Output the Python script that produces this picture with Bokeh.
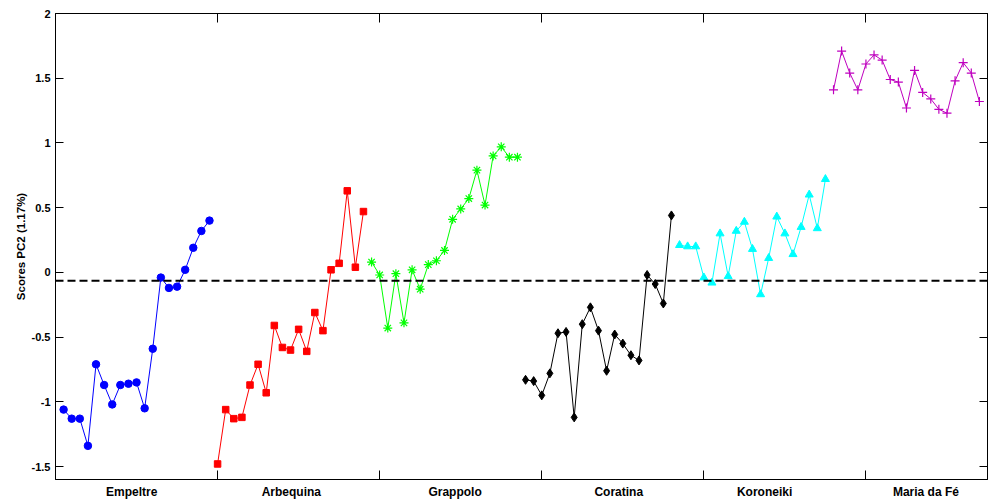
from bokeh.plotting import figure
from bokeh.models import LinearAxis, FixedTicker, Span, Range1d
from bokeh.embed import file_html
from bokeh.resources import INLINE

# ---- data ----
groups = ["Empeltre", "Arbequina", "Grappolo", "Coratina", "Koroneiki", "Maria da Fé"]

empeltre = [-1.06, -1.13, -1.13, -1.34, -0.71, -0.87, -1.02, -0.87, -0.86, -0.85,
            -1.05, -0.59, -0.04, -0.12, -0.11, 0.02, 0.19, 0.32, 0.40]
arbequina = [-1.48, -1.06, -1.13, -1.12, -0.87, -0.71, -0.93, -0.41, -0.58, -0.60,
             -0.44, -0.61, -0.31, -0.45, 0.02, 0.07, 0.63, 0.04, 0.47]
grappolo = [0.08, -0.02, -0.43, -0.01, -0.39, 0.02, -0.13, 0.06, 0.09, 0.17,
            0.41, 0.49, 0.57, 0.79, 0.52, 0.90, 0.97, 0.89, 0.89]
coratina = [-0.83, -0.84, -0.95, -0.78, -0.47, -0.46, -1.12, -0.40, -0.27, -0.45,
            -0.76, -0.48, -0.55, -0.64, -0.68, -0.02, -0.09, -0.24, 0.44]
koroneiki = [0.21, 0.20, 0.20, -0.04, -0.08, 0.30, -0.03, 0.32, 0.39, 0.18,
             -0.17, 0.11, 0.43, 0.30, 0.14, 0.35, 0.60, 0.34, 0.72]
maria_da_fe = [1.41, 1.71, 1.54, 1.41, 1.61, 1.68, 1.64, 1.49, 1.47, 1.27,
               1.56, 1.39, 1.34, 1.26, 1.23, 1.48, 1.62, 1.54, 1.32]

series_values = [empeltre, arbequina, grappolo, coratina, koroneiki, maria_da_fe]
series_colors = ["#0000ff", "#ff0000", "#00ff00", "#000000", "#00ffff", "#bf00bf"]
series_markers = ["circle", "square", "asterisk", "diamond", "triangle", "cross"]
series_sizes = [7.5, 6.5, 9, 9, 8, 9]

group_label_x = [9.4, 29.1, 49.3, 69.5, 87.5, 107.4]
boundary_ticks = [20, 40, 60, 80, 100]
y_ticks = [-1.5, -1, -0.5, 0, 0.5, 1, 1.5, 2]
y_tick_labels = ["-1.5", "-1", "-0.5", "0", "0.5", "1", "1.5", "2"]
threshold = -0.065
y_title = "Scores PC2 (1.17%)"

FONT = "Liberation Sans"

p = figure(width=990, height=501, x_range=Range1d(0, 115), y_range=Range1d(-1.6, 2),
           output_backend="svg", toolbar_location=None,
           min_border_left=55, min_border_right=3, min_border_top=13, min_border_bottom=22)
p.grid.visible = False
p.outline_line_color = "black"
p.outline_line_width = 1
p.background_fill_color = "white"
p.border_fill_color = "white"

# left axis
ya = p.yaxis[0]
ya.ticker = FixedTicker(ticks=y_ticks)
ya.major_label_overrides = {t: s for t, s in zip(y_ticks, y_tick_labels)}
ya.major_tick_in = 8
ya.major_tick_out = 0
ya.minor_tick_line_color = None
ya.major_label_standoff = 5
ya.major_label_text_font = FONT
ya.major_label_text_font_style = "bold"
ya.major_label_text_font_size = "11px"
ya.major_label_text_color = "black"
ya.axis_label = y_title
ya.axis_label_text_font = FONT
ya.axis_label_text_font_style = "bold"
ya.axis_label_text_font_size = "11.5px"
ya.axis_label_text_color = "black"
ya.axis_label_standoff = 2
ya.axis_line_color = "black"
ya.major_tick_line_color = "black"


def tick_only_axis(ticks, tick_len):
    return LinearAxis(ticker=FixedTicker(ticks=ticks), major_label_text_font_size="0px",
                      major_label_text_color=None, major_label_standoff=0,
                      major_tick_in=tick_len, major_tick_out=0, minor_tick_line_color=None,
                      axis_line_color="black", major_tick_line_color="black")


# bottom axis: boundary ticks only (no labels)
p.below.clear()
p.add_layout(tick_only_axis(boundary_ticks, 9), "below")

# bottom axis: group labels
la = LinearAxis(ticker=FixedTicker(ticks=group_label_x),
                major_label_overrides={t: s for t, s in zip(group_label_x, groups)},
                axis_line_color=None, major_tick_line_color=None, minor_tick_line_color=None,
                major_tick_in=0, major_tick_out=0,
                major_label_standoff=5, major_label_text_font=FONT,
                major_label_text_font_style="bold", major_label_text_font_size="12px",
                major_label_text_color="black")
p.add_layout(la, "below")

# mirrored top / right axes
p.add_layout(tick_only_axis(boundary_ticks, 9), "above")
p.add_layout(tick_only_axis(y_ticks, 8), "right")

# dashed reference line
p.add_layout(Span(location=threshold, dimension="width", line_color="black",
                  line_width=2, line_dash="8 4"))

# series
start = 1
for vals, col, mk, sz in zip(series_values, series_colors, series_markers, series_sizes):
    xs = list(range(start, start + len(vals)))
    p.line(xs, vals, line_color=col, line_width=1)
    if mk in ("asterisk", "cross"):
        p.scatter(xs, vals, marker=mk, size=sz, line_color=col, line_width=1.2, fill_color=None)
    else:
        p.scatter(xs, vals, marker=mk, size=sz, line_color=col, fill_color=col)
    start += len(vals)

open("out.html", "w").write(file_html(p, INLINE))
